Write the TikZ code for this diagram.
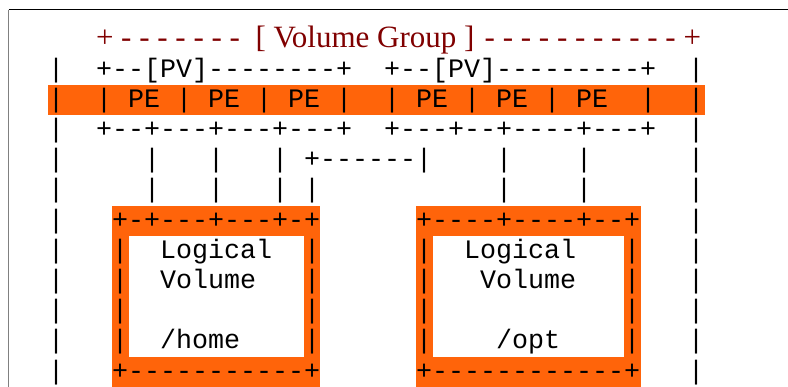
\documentclass[tikz,border=0pt]{standalone}
\usepackage{fontspec}
\setmainfont{Liberation Serif}
\setmonofont{Liberation Mono}
\definecolor{lvorange}{RGB}{255,100,10}
\definecolor{vgred}{RGB}{128,0,0}
\begin{document}
\begin{tikzpicture}[x=1pt,y=-1pt,
  asciirow/.style={anchor=base west, inner sep=0pt, outer sep=0pt,
    font=\ttfamily\fontsize{26.67}{30}\selectfont, text=black},
  titletext/.style={inner sep=0pt, outer sep=0pt,
    font=\rmfamily\fontsize{31}{31}\selectfont, text=vgred},
  band/.style={fill=lvorange, draw=none},
  hole/.style={fill=white, draw=none}]
\useasboundingbox (0,0) rectangle (788,387);
\clip (0,0) rectangle (788,387);
% outer frame
\draw[black, line width=1pt] (8.5,10) -- (788,10);
\draw[gray, line width=1pt] (8.5,10) -- (8.5,387);
% orange highlights
\fill[band] (48,85.2) rectangle (705,115.4);
\fill[band] (112,205.9) rectangle (320,392);
\fill[hole] (128.5,236.5) rectangle (304,357);
\fill[band] (416,205.9) rectangle (641,392);
\fill[hole] (433,236.5) rectangle (624,357);
% title line
\node[titletext, anchor=base west] (tleft) at (96,48) {+ - - - - - - -};
\node[titletext, anchor=base] (tmid) at (365,48) {[ Volume Group ]};
\node[titletext, anchor=base east] (tright) at (701,48) {- - - - - - - - - - - +};
% ascii rows
\node[asciirow] (r2) at (48,77.1) {|~~+--[PV]--------+~~+--[PV]---------+~~|};
\node[asciirow] (r3) at (48,107.3) {|~~|~PE~|~PE~|~PE~|~~|~PE~|~PE~|~PE~~|~~|};
\node[asciirow] (r4) at (48,137.5) {|~~+--+---+---+---+~~+---+--+----+---+~~|};
\node[asciirow] (r5) at (48,167.7) {|~~~~~|~~~|~~~|~+------|~~~~|~~~~|~~~~~~|};
\node[asciirow] (r6) at (48,197.9) {|~~~~~|~~~|~~~|~|~~~~~~~~~~~|~~~~|~~~~~~|};
\node[asciirow] (r7) at (48,228.1) {|~~~+-+---+---+-+~~~~~~+----+----+--+~~~|};
\node[asciirow] (r8) at (48,258.3) {|~~~|~~Logical~~|~~~~~~|~~Logical~~~|~~~|};
\node[asciirow] (r9) at (48,288.5) {|~~~|~~Volume~~~|~~~~~~|~~~Volume~~~|~~~|};
\node[asciirow] (r10) at (48,318.7) {|~~~|~~~~~~~~~~~|~~~~~~|~~~~~~~~~~~~|~~~|};
\node[asciirow] (r11) at (48,348.9) {|~~~|~~/home~~~~|~~~~~~|~~~~/opt~~~~|~~~|};
\node[asciirow] (r12) at (48,379.1) {|~~~+-----------+~~~~~~+------------+~~~|};
\end{tikzpicture}
\end{document}
